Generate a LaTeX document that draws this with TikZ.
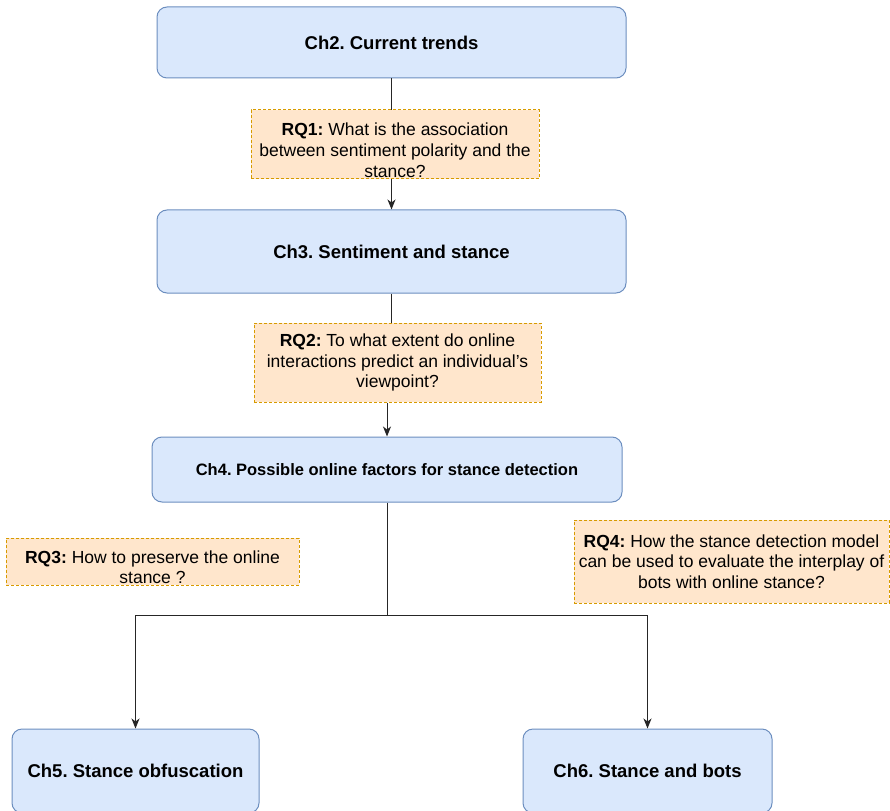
\documentclass[tikz,border=0pt]{standalone}
\usepackage{fontspec}
\setmainfont{Liberation Sans}
\usetikzlibrary{arrows.meta}
\definecolor{chfill}{HTML}{DAE8FC}
\definecolor{chline}{HTML}{6C8EBF}
\definecolor{rqfill}{HTML}{FFE6CC}
\definecolor{rqline}{HTML}{D79B00}
\newcommand{\lowtext}[2]{\raisebox{-#1}[\height][\depth]{\begin{tabular}{@{}c@{}}#2\end{tabular}}}
\frenchspacing
\begin{document}
\begin{tikzpicture}[x=1pt,y=-1pt,
  chapter/.style={draw=chline, fill=chfill, line width=1pt, rounded corners=10pt, align=center, font=\fontsize{18.5}{22}\selectfont\bfseries},
  question/.style={draw=rqline, fill=rqfill, line width=1pt, dashed, dash pattern=on 3pt off 2pt, align=center, inner sep=0pt, font=\fontsize{17.5}{20.7}\selectfont},
  link/.style={line width=1pt, draw=black!85},
  >={Stealth[length=10pt,width=8pt,inset=3pt]}]
\useasboundingbox (0,0) rectangle (890,810);

\node[chapter, minimum width=469pt, minimum height=71pt] (ch2) at (391.5,42.5) {Ch2. Current trends};
\node[chapter, minimum width=469pt, minimum height=83pt] (ch3) at (391.5,251.5) {Ch3. Sentiment and stance};
\node[chapter, minimum width=470pt, minimum height=65pt, font=\fontsize{16.5}{20}\selectfont\bfseries] (ch4) at (387,469.5) {Ch4. Possible online factors for stance detection};
\node[chapter, minimum width=247pt, minimum height=84pt] (ch5) at (135.5,771) {Ch5. Stance obfuscation};
\node[chapter, minimum width=249pt, minimum height=84pt] (ch6) at (647.5,771) {Ch6. Stance and bots};

\draw[link,->] (ch2) -- (ch3);
\node[question, minimum width=288pt, minimum height=69pt] (rq1) at (395,144.5) {\lowtext{8pt}{\textbf{RQ1:} What is the association\\between sentiment polarity and the\\stance?}};

\node[question, minimum width=287pt, minimum height=79pt] (rq2) at (397.5,362.5) {\textbf{RQ2:} To what extent do online\\interactions predict an individual’s\\viewpoint?};
\draw[link] (ch3.south) -- (ch3.south |- rq2.north);
\draw[link,->] (rq2.south -| ch4.north) -- (ch4.north);

\coordinate (split) at (387,615);
\draw[link,->] (ch4.south) -- (split) -| (ch5.north);
\draw[link,->] (split) -| (ch6.north);

\node[question, minimum width=293pt, minimum height=47pt] (rq3) at (152.5,561.5) {\lowtext{8pt}{\textbf{RQ3:} How to preserve the online\\stance ?}};
\node[question, minimum width=315pt, minimum height=83pt] (rq4) at (731.5,561.5) {\textbf{RQ4:} How the stance detection model\\can be used to evaluate the interplay of\\bots with online stance?};

\end{tikzpicture}
\end{document}
